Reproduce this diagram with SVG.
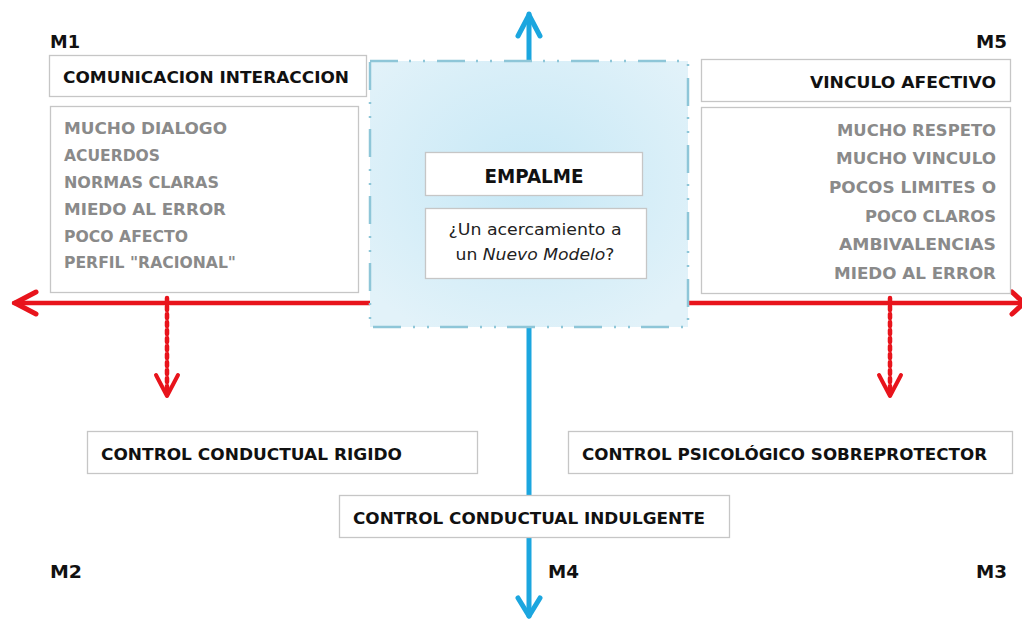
<svg xmlns="http://www.w3.org/2000/svg" width="1022" height="619" viewBox="0 0 1022 619">
<defs>
<radialGradient id="bg" cx="50%" cy="45%" r="65%">
<stop offset="0" stop-color="#c6e8f6"/>
<stop offset="1" stop-color="#e2f2f9"/>
</radialGradient>
<style>
.box{fill:#fff;stroke:#c6c6c6;stroke-width:1.3}
.t{font-family:"DejaVu Sans",Verdana,sans-serif;font-weight:bold;font-size:16px;fill:#111}
.g{font-family:"DejaVu Sans",Verdana,sans-serif;font-weight:bold;font-size:16.5px;fill:#8a8a8a}
.m{font-family:"DejaVu Sans",Verdana,sans-serif;font-weight:bold;font-size:18px;fill:#111}
.q{font-family:"DejaVu Sans",Verdana,sans-serif;font-size:16px;fill:#222}
.red{stroke:#e8141c;fill:none;stroke-linecap:round;stroke-linejoin:round}
.blue{stroke:#1ba6df;fill:none;stroke-linecap:round;stroke-linejoin:round}
</style>
</defs>
<rect width="1022" height="619" fill="#fff"/>

<g id="connectors">
<line class="blue" x1="529" y1="14" x2="529" y2="616" stroke-width="5" stroke-linecap="butt"/>
<polyline class="blue" points="518,36 529,15 540,36" stroke-width="5"/>
<polyline class="blue" points="518,598 529,616 540,598" stroke-width="5"/>
<line class="red" x1="14" y1="303" x2="1022" y2="303" stroke-width="4.5" stroke-linecap="butt"/>
<polyline class="red" points="36,292 15,303 36,314" stroke-width="5"/>
<polyline class="red" points="1012,292 1024,303 1012,314" stroke-width="5"/>
<line class="red" x1="167" y1="298" x2="167" y2="392" stroke-width="4.5" stroke-dasharray="4 4" stroke-linecap="butt"/>
<polyline class="red" points="156,375 167,396 178,375" stroke-width="4"/>
<line class="red" x1="890" y1="298" x2="890" y2="392" stroke-width="4.5" stroke-dasharray="4 4" stroke-linecap="butt"/>
<polyline class="red" points="879,375 890,396 901,375" stroke-width="4"/>
</g>

<g id="empalme-area">
<rect x="370" y="61" width="318" height="266" fill="url(#bg)" stroke="#8ec6d8" stroke-width="2.5" stroke-dasharray="28 11 2 12 2 12"/>
</g>

<g id="M1"><text class="m" x="50" y="48" textLength="30" lengthAdjust="spacingAndGlyphs">M1</text></g>
<g id="M5"><text class="m" x="1007" y="48" text-anchor="end" textLength="31" lengthAdjust="spacingAndGlyphs">M5</text></g>
<g id="M2"><text class="m" x="50" y="578" textLength="32" lengthAdjust="spacingAndGlyphs">M2</text></g>
<g id="M4"><text class="m" x="548" y="578" textLength="31" lengthAdjust="spacingAndGlyphs">M4</text></g>
<g id="M3"><text class="m" x="1007" y="578" text-anchor="end" textLength="31" lengthAdjust="spacingAndGlyphs">M3</text></g>

<g id="comunicacion">
<rect class="box" x="49.5" y="55.5" width="317" height="41"/>
<text class="t" x="63" y="83" textLength="286" lengthAdjust="spacingAndGlyphs">COMUNICACION INTERACCION</text>
</g>

<g id="lista-m1">
<rect class="box" x="50.5" y="106.5" width="308" height="186"/>
<text class="g" x="64" y="134" textLength="163" lengthAdjust="spacingAndGlyphs">MUCHO DIALOGO</text>
<text class="g" x="64" y="161" textLength="96" lengthAdjust="spacingAndGlyphs">ACUERDOS</text>
<text class="g" x="64" y="188" textLength="155" lengthAdjust="spacingAndGlyphs">NORMAS CLARAS</text>
<text class="g" x="64" y="215" textLength="162" lengthAdjust="spacingAndGlyphs">MIEDO AL ERROR</text>
<text class="g" x="64" y="242" textLength="124" lengthAdjust="spacingAndGlyphs">POCO AFECTO</text>
<text class="g" x="64" y="268" textLength="172" lengthAdjust="spacingAndGlyphs">PERFIL "RACIONAL"</text>
</g>

<g id="vinculo">
<rect class="box" x="701.5" y="59.5" width="309" height="42"/>
<text class="t" x="996" y="88" text-anchor="end" textLength="186" lengthAdjust="spacingAndGlyphs">VINCULO AFECTIVO</text>
</g>

<g id="lista-m5">
<rect class="box" x="701.5" y="107.5" width="309" height="186"/>
<text class="g" x="996" y="136" text-anchor="end" textLength="159" lengthAdjust="spacingAndGlyphs">MUCHO RESPETO</text>
<text class="g" x="996" y="164" text-anchor="end" textLength="160" lengthAdjust="spacingAndGlyphs">MUCHO VINCULO</text>
<text class="g" x="996" y="193" text-anchor="end" textLength="167" lengthAdjust="spacingAndGlyphs">POCOS LIMITES O</text>
<text class="g" x="996" y="222" text-anchor="end" textLength="131" lengthAdjust="spacingAndGlyphs">POCO CLAROS</text>
<text class="g" x="996" y="250" text-anchor="end" textLength="157" lengthAdjust="spacingAndGlyphs">AMBIVALENCIAS</text>
<text class="g" x="996" y="279" text-anchor="end" textLength="162" lengthAdjust="spacingAndGlyphs">MIEDO AL ERROR</text>
</g>

<g id="empalme">
<rect class="box" x="425.5" y="152.5" width="217" height="43"/>
<text class="t" x="534" y="183" text-anchor="middle" style="font-size:19px" textLength="99" lengthAdjust="spacingAndGlyphs">EMPALME</text>
</g>

<g id="pregunta">
<rect class="box" x="425.5" y="208.5" width="221" height="70"/>
<text class="q" x="535" y="235" text-anchor="middle" textLength="173" lengthAdjust="spacingAndGlyphs">¿Un acercamiento a</text>
<text class="q" x="535" y="260" text-anchor="middle" textLength="159" lengthAdjust="spacingAndGlyphs">un <tspan font-style="italic">Nuevo Modelo</tspan>?</text>
</g>

<g id="rigido">
<rect class="box" x="87.5" y="431.5" width="390" height="42"/>
<text class="t" x="101" y="460" textLength="301" lengthAdjust="spacingAndGlyphs">CONTROL CONDUCTUAL RIGIDO</text>
</g>

<g id="sobreprotector">
<rect class="box" x="568.5" y="431.5" width="444" height="42"/>
<text class="t" x="582" y="460" textLength="405" lengthAdjust="spacingAndGlyphs">CONTROL PSICOLÓGICO SOBREPROTECTOR</text>
</g>

<g id="indulgente">
<rect class="box" x="339.5" y="495.5" width="390" height="42"/>
<text class="t" x="353" y="524" textLength="352" lengthAdjust="spacingAndGlyphs">CONTROL CONDUCTUAL INDULGENTE</text>
</g>
</svg>
